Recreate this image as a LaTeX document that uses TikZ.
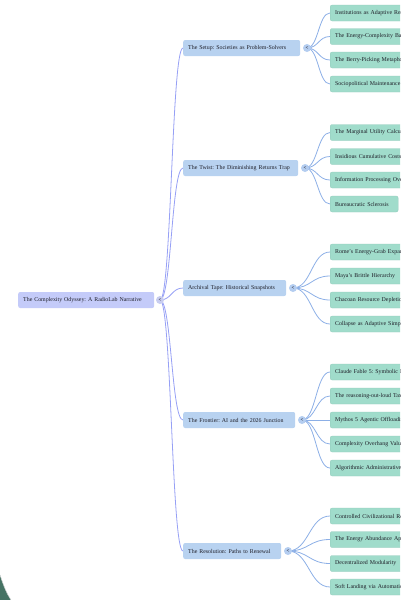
\documentclass[tikz,border=0pt]{standalone}
\usepackage{fontspec}
\setmainfont{Liberation Serif}
\usetikzlibrary{calc,backgrounds}
\definecolor{rootfill}{RGB}{196,203,249}
\definecolor{lonefill}{RGB}{184,210,240}
\definecolor{leaffill}{RGB}{160,220,203}
\definecolor{rootlinkc}{RGB}{150,160,245}
\definecolor{lonelinkc}{RGB}{140,175,230}
\definecolor{rootcircc}{RGB}{200,205,240}
\definecolor{lonecircc}{RGB}{180,205,240}
\definecolor{cornerc}{RGB}{70,115,100}
\definecolor{txtc}{RGB}{30,30,40}
\frenchspacing
\tikzset{
  box/.style={anchor=west, rounded corners=2pt, inner xsep=5pt, inner ysep=0pt,
    minimum height=16pt, align=left, text=txtc,
    font=\fontsize{5.9}{7}\selectfont\frenchspacing},
  rootbox/.style={box, fill=rootfill, text width=#1},
  lonebox/.style={box, fill=lonefill, text width=#1},
  leafbox/.style={box, fill=leaffill, draw=leaffill!92!black, line width=0.3pt, text width=#1},
  leafbox/.default=150pt,
  circ/.style={circle, minimum size=8pt, inner sep=0pt, font=\fontsize{5}{5}\selectfont\bfseries, text=txtc},
  rootlink/.style={draw=rootlinkc, line width=0.8pt},
  lonelink/.style={draw=lonelinkc, line width=0.8pt},
}
\begin{document}
\begin{tikzpicture}[x=1pt,y=-1pt]
\useasboundingbox (0,0) rectangle (400,600);
\clip (0,0) rectangle (400,600);
% corner shape
\fill[cornerc] (0,575) .. controls (4,587) and (7,594) .. (11,600) -- (0,600) -- cycle;
\draw[gray!30, line width=0.5pt] (0,575) .. controls (4,587) and (7,594) .. (11,600);
% root
\node[rootbox=126pt] (root) at (18,300) {The Complexity Odyssey: A RadioLab Narrative};
\node[circ, fill=rootcircc] (croot) at (160,300) {<};
% level 1
\node[lonebox=107pt] (s) at (183,48) {The Setup: Societies as Problem-Solvers};
\node[lonebox=105pt] (t) at (183,168) {The Twist: The Diminishing Returns Trap};
\node[lonebox=93pt] (a) at (183,288) {Archival Tape: Historical Snapshots};
\node[lonebox=102pt] (f) at (183,420) {The Frontier: AI and the 2026 Junction};
\node[lonebox=88pt] (r) at (183,551) {The Resolution: Paths to Renewal};
\node[circ, fill=lonecircc] (cs) at (307,48) {<};
\node[circ, fill=lonecircc] (ct) at (305,168) {<};
\node[circ, fill=lonecircc] (ca) at (293,288) {<};
\node[circ, fill=lonecircc] (cf) at (302,420) {<};
\node[circ, fill=lonecircc] (cr) at (288,551) {<};
% leaves
\node[leafbox] (s1) at (330,13) {Institutions as Adaptive Responses to Stress};
\node[leafbox] (s2) at (330,36.5) {The Energy-Complexity Balance};
\node[leafbox] (s3) at (330,60) {The Berry-Picking Metaphor};
\node[leafbox] (s4) at (330,84) {Sociopolitical Maintenance Costs};
\node[leafbox] (t1) at (330,132.5) {The Marginal Utility Calculation};
\node[leafbox] (t2) at (330,156.5) {Insidious Cumulative Costs};
\node[leafbox] (t3) at (330,180) {Information Processing Overload};
\node[leafbox=58pt] (t4) at (330,204) {Bureaucratic Sclerosis};
\node[leafbox] (a1) at (330,252) {Rome's Energy-Grab Expansion};
\node[leafbox] (a2) at (330,276) {Maya's Brittle Hierarchy};
\node[leafbox] (a3) at (330,300) {Chacoan Resource Depletion};
\node[leafbox] (a4) at (330,324) {Collapse as Adaptive Simplification};
\node[leafbox] (f1) at (330,372) {Claude Fable 5: Symbolic Insight};
\node[leafbox] (f2) at (330,396) {The reasoning-out-loud Tax};
\node[leafbox] (f3) at (330,420) {Mythos 5 Agentic Offloading};
\node[leafbox] (f4) at (330,444) {Complexity Overhang Valuation};
\node[leafbox] (f5) at (330,468) {Algorithmic Administrative Layers};
\node[leafbox] (r1) at (330,516) {Controlled Civilizational Retrenchment};
\node[leafbox] (r2) at (330,539.5) {The Energy Abundance Approach};
\node[leafbox] (r3) at (330,563.5) {Decentralized Modularity};
\node[leafbox] (r4) at (330,587) {Soft Landing via Automation};
% links
\begin{scope}[on background layer]
\foreach \p in {s,t,a,f,r} {
  \coordinate (m) at ($(croot.center)!0.5!(\p.west)$);
  \draw[rootlink] (croot.center) .. controls (m |- croot.center) and (m |- \p.west) .. (\p.west);
}
\foreach \p/\n in {s/4,t/4,a/4,f/5,r/4} {
  \foreach \i in {1,...,\n} {
    \coordinate (m) at ($(c\p.center)!0.5!(\p\i.west)$);
    \draw[lonelink] (c\p.center) .. controls (m |- c\p.center) and (m |- \p\i.west) .. (\p\i.west);
  }
}
\end{scope}
\end{tikzpicture}
\end{document}
